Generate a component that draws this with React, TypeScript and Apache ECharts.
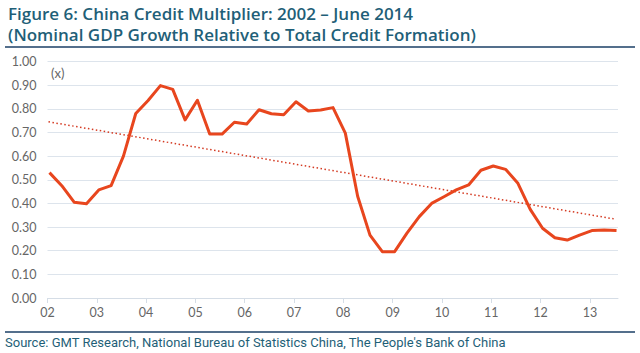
import React, { useEffect, useRef } from "react";
import * as echarts from "echarts";

const TITLE_1 = "Figure 6: China Credit Multiplier: 2002 – June 2014";
const TITLE_2 = "(Nominal GDP Growth Relative to Total Credit Formation)";
const SOURCE = "Source: GMT Research, National Bureau of Statistics China, The People's Bank of China";
const UNIT = "(x)";

// quarterly observations, x in fractional years
const quarterX = [
  2002.04, 2002.29, 2002.54, 2002.79, 2003.04, 2003.29, 2003.54, 2003.79,
  2004.04, 2004.29, 2004.54, 2004.79, 2005.04, 2005.29, 2005.54, 2005.79,
  2006.04, 2006.29, 2006.54, 2006.79, 2007.04, 2007.29, 2007.54, 2007.79,
  2008.04, 2008.29, 2008.54, 2008.79, 2009.04, 2009.29, 2009.54, 2009.79,
  2010.04, 2010.29, 2010.54, 2010.79, 2011.04, 2011.29, 2011.54, 2011.79,
  2012.04, 2012.29, 2012.54, 2012.79, 2013.04, 2013.29, 2013.54,
];
const multiplier = [
  0.53, 0.475, 0.405, 0.399, 0.457, 0.475, 0.6, 0.78,
  0.835, 0.898, 0.882, 0.753, 0.836, 0.693, 0.693, 0.743,
  0.736, 0.796, 0.779, 0.775, 0.83, 0.791, 0.795, 0.805,
  0.697, 0.43, 0.266, 0.196, 0.196, 0.274, 0.344, 0.4,
  0.428, 0.457, 0.478, 0.54, 0.558, 0.544, 0.485, 0.375,
  0.295, 0.255, 0.245, 0.266, 0.285, 0.288, 0.285,
];
const trendX = [2002.02, 2013.5];
const trendY = [0.745, 0.334];

const yTicks = ["0.00", "0.10", "0.20", "0.30", "0.40", "0.50", "0.60", "0.70", "0.80", "0.90", "1.00"];

export default function App() {
  const ref = useRef<HTMLDivElement>(null);
  useEffect(() => {
    if (!ref.current) return;
    const chart = echarts.init(ref.current, null, { renderer: "svg" });
    const navy = "#1b3f66";
    const teal = "#1f5f78";
    chart.setOption({
      animation: false,
      backgroundColor: "#ffffff",
      grid: { left: 47.5, right: 22, top: 61.5, bottom: 55 },
      xAxis: {
        type: "value",
        min: 2002,
        max: 2013.57,
        interval: 1,
        axisLine: { show: true, lineStyle: { color: "#d5dde6", width: 1 } },
        axisTick: { show: true, length: 5, lineStyle: { color: "#d5dde6" } },
        splitLine: { show: false },
        axisLabel: {
          color: "#666",
          fontFamily: "Lato",
          fontSize: 12.5,
          margin: 8,
          showMaxLabel: false,
          formatter: (v: number) => String(Math.round(v) % 100).padStart(2, "0"),
        },
      },
      yAxis: {
        type: "value",
        min: 0,
        max: 1,
        interval: 0.1,
        axisLine: { show: false },
        axisTick: { show: false },
        splitLine: { lineStyle: { color: "#dde4ec", width: 1 } },
        axisLabel: {
          color: "#666",
          fontFamily: "Lato",
          fontSize: 12.5,
          margin: 11,
          formatter: (v: number) => yTicks[Math.round(v * 10)],
        },
      },
      series: [
        {
          type: "line",
          data: quarterX.map((x, i) => [x, multiplier[i]]),
          showSymbol: false,
          lineStyle: { color: "#e8461e", width: 3, join: "round" },
          z: 3,
        },
        {
          type: "line",
          data: trendX.map((x, i) => [x, trendY[i]]),
          showSymbol: false,
          lineStyle: { color: "#d43a22", width: 1.5, type: [1.5, 2.5] },
          z: 2,
        },
      ],
      graphic: [
        {
          type: "text",
          left: 8,
          top: 3,
          style: { text: TITLE_1, fill: teal, font: "600 17px 'Open Sans'", lineHeight: 20 },
        },
        {
          type: "text",
          left: 8,
          top: 24,
          style: { text: TITLE_2, fill: teal, font: "600 17px 'Open Sans'", lineHeight: 20 },
        },
        {
          type: "line",
          shape: { x1: 5, y1: 47, x2: 635, y2: 47 },
          style: { stroke: navy, lineWidth: 1.5 },
        },
        {
          type: "text",
          left: 51,
          top: 66,
          style: { text: UNIT, fill: "#666", font: "13px Lato" },
        },
        {
          type: "line",
          shape: { x1: 5, y1: 332, x2: 635, y2: 332 },
          style: { stroke: navy, lineWidth: 1.5 },
        },
        {
          type: "text",
          left: 5,
          top: 336,
          style: { text: SOURCE, fill: teal, font: "13px Roboto" },
        },
      ],
    });
    return () => chart.dispose();
  }, []);
  return <div ref={ref} style={{ width: 640, height: 353, position: "absolute", left: 0, top: 0 }} />;
}
